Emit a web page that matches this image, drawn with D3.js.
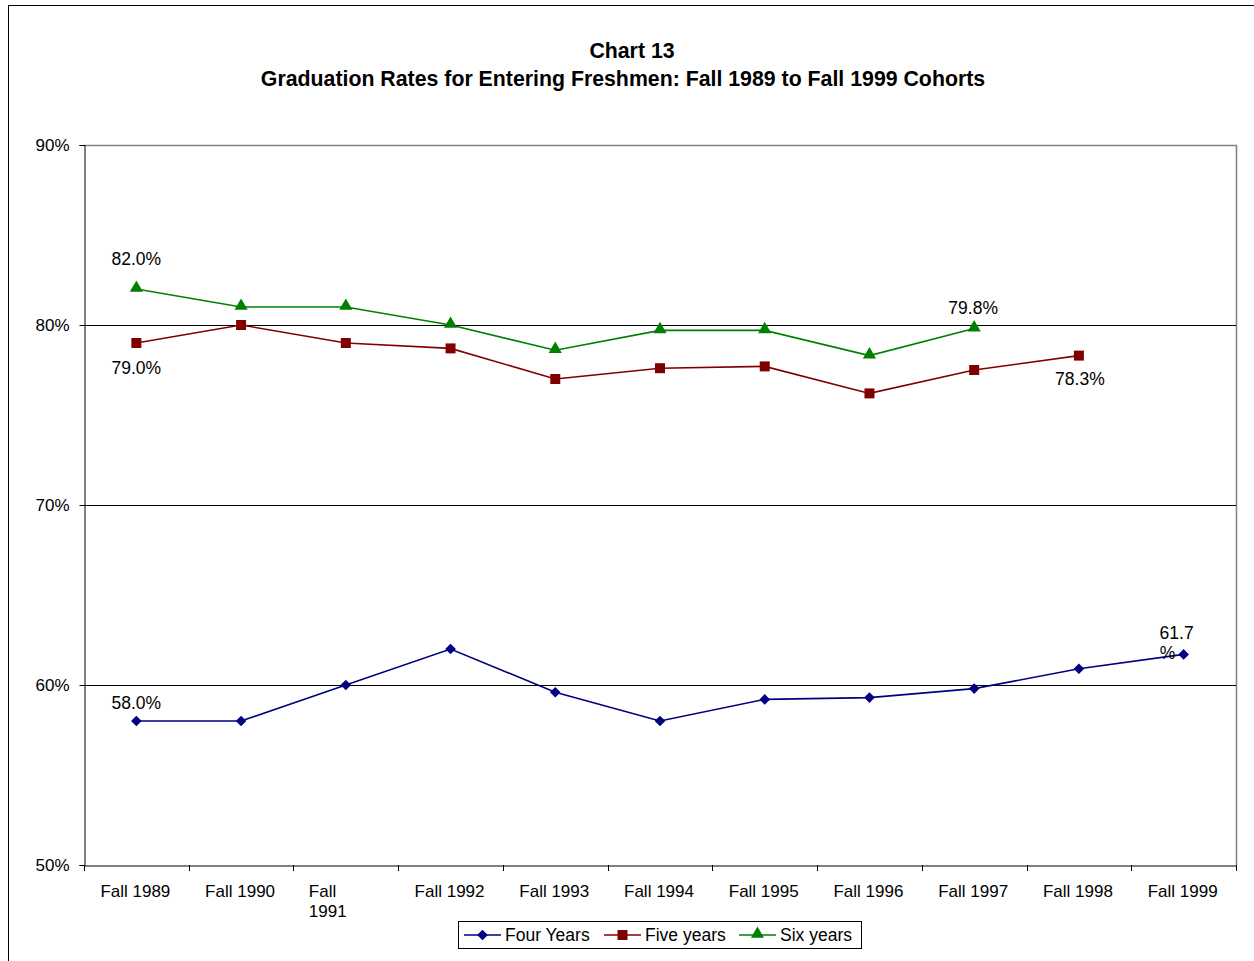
<!DOCTYPE html>
<html>
<head>
<meta charset="utf-8">
<script src="https://cdn.jsdelivr.net/npm/d3@7"></script>
<style>
  body { margin: 0; background: #fff; }
  svg { display: block; font-family: "Liberation Sans", Arial, sans-serif; }
</style>
</head>
<body>
<div class="render"></div>
<script>
"use strict";

var cohorts = ["Fall 1989", "Fall 1990", "Fall 1991", "Fall 1992", "Fall 1993", "Fall 1994",
               "Fall 1995", "Fall 1996", "Fall 1997", "Fall 1998", "Fall 1999"];
var fourYears = [58.0, 58.0, 60.0, 62.0, 59.6, 58.0, 59.2, 59.3, 59.8, 60.9, 61.7];
var fiveYears = [79.0, 80.0, 79.0, 78.7, 77.0, 77.6, 77.7, 76.2, 77.5, 78.3];
var sixYears = [82.0, 81.0, 81.0, 80.0, 78.6, 79.7, 79.7, 78.3, 79.8];
var yTicks = [50, 60, 70, 80, 90];
var seriesNames = ["Four Years", "Five years", "Six years"];

var w = 1254, h = 961;
var pLeft = 84, pRight = 1236, pTop = 145, pBottom = 865;

var svg = d3.select(".render").append("svg").attr("width", w).attr("height", h);

svg.append("rect").attr("x", 8.5).attr("y", 5.5).attr("width", w + 10).attr("height", h + 10)
   .attr("fill", "#fff").attr("stroke", "#000").attr("stroke-width", 1);

var x = d3.scaleBand().domain(cohorts).range([pLeft, pRight]);
var y = d3.scaleLinear().domain([50, 90]).range([pBottom, pTop]);

// title
svg.append("text").text("Chart 13").attr("x", 632).attr("y", 58)
   .attr("text-anchor", "middle").style("font-size", "21.3px").style("font-weight", "bold");
svg.append("text").text("Graduation Rates for Entering Freshmen: Fall 1989 to Fall 1999 Cohorts")
   .attr("x", 623).attr("y", 86).attr("text-anchor", "middle")
   .style("font-size", "21.3px").style("font-weight", "bold");

// plot frame (top/right grey)
svg.append("path").attr("d", "M" + pLeft + "," + (pTop + 0.5) + "H" + (pRight + 0.5) + "V" + pBottom)
   .attr("fill", "none").attr("stroke", "#808080").attr("stroke-width", 1.5);

// gridlines
svg.selectAll("line.grid").data([60, 70, 80]).enter().append("line").attr("class", "grid")
   .attr("x1", pLeft).attr("x2", pRight).attr("y1", function (d) { return Math.round(y(d)) + 0.5; })
   .attr("y2", function (d) { return Math.round(y(d)) + 0.5; })
   .attr("stroke", "#000").attr("stroke-width", 1);

// y axis
var yAxis = svg.append("g").attr("transform", "translate(" + (pLeft + 0.5) + ",0)")
   .call(d3.axisLeft(y).tickValues(yTicks).tickSize(5).tickPadding(10).tickFormat(function (d) { return d + "%"; }));
yAxis.select(".domain").attr("stroke", "#000");
yAxis.selectAll("text").style("font-size", "17px").attr("fill", "#000").attr("font-family", null);

// x axis
var xAxis = svg.append("g").attr("transform", "translate(0," + (pBottom + 0.5) + ")")
   .call(d3.axisBottom(x).tickSize(0).tickFormat(""));
xAxis.select(".domain").attr("stroke", "#000");
svg.selectAll("line.xtick").data(cohorts.concat(["end"])).enter().append("line").attr("class", "xtick")
   .attr("x1", function (d, i) { return Math.round(pLeft + i * x.bandwidth()) + 0.5; })
   .attr("x2", function (d, i) { return Math.round(pLeft + i * x.bandwidth()) + 0.5; })
   .attr("y1", pBottom).attr("y2", pBottom + 6).attr("stroke", "#000");

svg.selectAll("text.xlab").data(cohorts).enter().append("text").attr("class", "xlab")
   .each(function (d) {
      var t = d3.select(this);
      var c = x(d) + x.bandwidth() / 2;
      if (d === "Fall 1991") {
         t.attr("x", c - 37).attr("y", pBottom + 32).attr("text-anchor", "start");
         t.append("tspan").attr("x", c - 37).text("Fall");
         t.append("tspan").attr("x", c - 37).attr("dy", 20).text("1991");
      } else {
         t.attr("x", c - 1).attr("y", pBottom + 32).attr("text-anchor", "middle").text(d);
      }
   })
   .style("font-size", "17px").attr("fill", "#000");

var cx = function (d, i) { return x(cohorts[i]) + x.bandwidth() / 2; };
var series = [
   { name: seriesNames[0], values: fourYears, color: "#000080", shape: d3.symbolDiamond2, size: 72, dy: 0 },
   { name: seriesNames[1], values: fiveYears, color: "#800000", shape: d3.symbolSquare, size: 100, dy: 0 },
   { name: seriesNames[2], values: sixYears, color: "#008000", shape: d3.symbolTriangle, size: 75, dy: -1 }
];

var line = d3.line().x(cx).y(function (d) { return y(d); });

series.forEach(function (s) {
   svg.append("path").datum(s.values).attr("d", line)
      .attr("fill", "none").attr("stroke", s.color).attr("stroke-width", 1.6);
   svg.selectAll(null).data(s.values).enter().append("path")
      .attr("d", d3.symbol().type(s.shape).size(s.size))
      .attr("transform", function (d, i) {
         return "translate(" + cx(d, i) + "," + (y(d) + s.dy) + ")";
      })
      .attr("fill", s.color);
});

// data labels
function label(txt, xv, yv) {
   svg.append("text").text(txt).attr("x", xv).attr("y", yv).attr("text-anchor", "middle")
      .style("font-size", "17.5px").attr("fill", "#000");
}
label(sixYears[0].toFixed(1) + "%", cx(null, 0), y(sixYears[0]) - 24);
label(fiveYears[0].toFixed(1) + "%", cx(null, 0), y(fiveYears[0]) + 31);
label(sixYears[8].toFixed(1) + "%", cx(null, 8) - 1, y(sixYears[8]) - 15);
label(fiveYears[9].toFixed(1) + "%", cx(null, 9) + 1, y(fiveYears[9]) + 29);
label(fourYears[0].toFixed(1) + "%", cx(null, 0), y(fourYears[0]) - 12);
label(fourYears[10].toFixed(1), cx(null, 10) - 7, y(fourYears[10]) - 15);
label("%", cx(null, 10) - 16, y(fourYears[10]) + 5);

// legend
var lg = svg.append("g").attr("transform", "translate(458,921)");
lg.append("rect").attr("x", 0.5).attr("y", 0.5).attr("width", 403).attr("height", 27)
   .attr("fill", "#fff").attr("stroke", "#000").attr("stroke-width", 1);
var lx = [6, 146, 281];
series.forEach(function (s, i) {
   var g = lg.append("g").attr("transform", "translate(" + lx[i] + ",14)");
   g.append("line").attr("x1", 0).attr("x2", 37).attr("stroke", s.color).attr("stroke-width", 1.6);
   g.append("path").attr("d", d3.symbol().type(s.shape).size(s.size))
      .attr("transform", "translate(18.5," + s.dy + ")").attr("fill", s.color);
   g.append("text").text(s.name).attr("x", 41).attr("y", 6).style("font-size", "17.5px").attr("fill", "#000");
});
</script>
</body>
</html>
